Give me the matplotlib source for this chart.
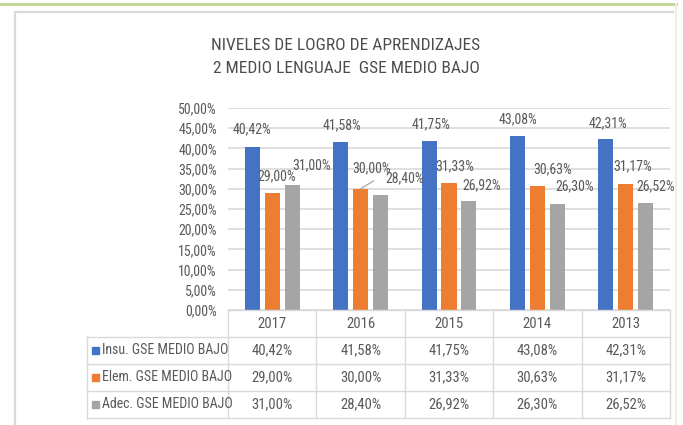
import numpy as np
import matplotlib
matplotlib.use('Agg')
import matplotlib.pyplot as plt
import matplotlib.transforms as mtransforms
from matplotlib.lines import Line2D
from matplotlib.patches import Rectangle
from matplotlib import font_manager

# fuente estrecha parecida a la del original
installed = {f.name for f in font_manager.fontManager.ttflist}
wanted = ['Roboto Condensed', 'Archivo Narrow', 'Asap Condensed', 'Barlow Condensed']
fam = [n for n in wanted if n in installed][:1] + ['DejaVu Sans']
plt.rcParams['font.family'] = fam

# datos
years = ['2017', '2016', '2015', '2014', '2013']
series_names = ['Insu. GSE MEDIO BAJO', 'Elem. GSE MEDIO BAJO', 'Adec. GSE MEDIO BAJO']
insu = [40.42, 41.58, 41.75, 43.08, 42.31]
elem = [29.00, 30.00, 31.33, 30.63, 31.17]
adec = [31.00, 28.40, 26.92, 26.30, 26.52]
colors = ['#4472c4', '#ed7d31', '#a5a5a5']
title = 'NIVELES DE LOGRO DE APRENDIZAJES\n2 MEDIO LENGUAJE  GSE MEDIO BAJO'

# desplazamiento de las etiquetas (px) como en la hoja original
label_dx = [[0, 1, 2, 1, 2], [4, 11, 6, 15, 7], [19, 24, 13, 17, 10]]
label_dy = [[17, 17, 17, 17, 16], [17, 21, 17, 17, 18], [19, 17, 16, 17, 17]]

txt = '#595959'
grid_c = '#d9d9d9'
PT = 0.72  # px -> pt a 100 dpi


def pct(v):
    return f'{v:.2f}%'.replace('.', ',')


W, H = 683, 425
fig = plt.figure(figsize=(W / 100, H / 100), dpi=100)

# marco de la hoja
fig.add_artist(Line2D([0, 676 / W], [1 - 4 / H] * 2, transform=fig.transFigure,
                      color='#c4d79b', lw=2.2))
fig.add_artist(Line2D([676 / W] * 2, [0, 1 - 4 / H], transform=fig.transFigure,
                      color='#ebf1de', lw=1.5))
fig.add_artist(Line2D([15 / W, 15 / W, 673 / W], [0, 1 - 12 / H, 1 - 12 / H],
                      transform=fig.transFigure, color='#d9d9d9', lw=1.6))

# area del grafico: x 228..670 px, y 108..310 px
ax = fig.add_axes([228 / W, 1 - 310 / H, 442 / W, 202 / H])
ax.set_xlim(-0.5, 4.5)
ax.set_ylim(0, 50)
x = np.arange(len(years))
width = 0.17
step = 0.226

series = [insu, elem, adec]
for i, (vals, c) in enumerate(zip(series, colors)):
    xs = x + (i - 1) * step
    ax.bar(xs, vals, width, color=c, zorder=2)
    for j, v in enumerate(vals):
        ax.annotate(pct(v), (xs[j], v), xytext=(label_dx[i][j] * PT, label_dy[i][j] * PT),
                    textcoords='offset points', ha='center', va='center',
                    fontsize=10, color=txt)

# linea guia de la etiqueta 30,00%
ax.annotate('', xy=(x[1], elem[1]), xytext=(13 * PT, 8 * PT), textcoords='offset points',
            arrowprops=dict(arrowstyle='-', color='#a6a6a6', lw=0.9, shrinkA=0, shrinkB=0))

ax.set_yticks(np.arange(0, 51, 5))
ax.set_yticklabels([pct(v) for v in np.arange(0, 51, 5)], fontsize=10, color=txt)
ax.set_xticks([])
ax.tick_params(axis='y', length=0, pad=8)
for s in ax.spines.values():
    s.set_visible(False)
ax.yaxis.grid(True, color=grid_c, lw=1.2)
ax.set_axisbelow(True)

fig.text(346 / W, 1 - 57 / H, title, ha='center', va='center', fontsize=12.5,
         color='#4d4d4d', linespacing=1.7)


# tabla de datos bajo el grafico
def ax_x(px):
    return (px - 228) / 442


def ax_y(py):
    return (310 - py) / 202


blend = mtransforms.blended_transform_factory(ax.transData, ax.transAxes)
row_edges = [310, 337, 363.5, 390.5, 418]
left_px = 87

kw = dict(transform=ax.transAxes, clip_on=False, color=grid_c, lw=1.0)
for k, py in enumerate(row_edges):
    x0 = 0 if k == 0 else ax_x(left_px)
    ax.plot([x0, 1], [ax_y(py)] * 2, **kw)
for e in np.arange(-0.5, len(years)):
    xe = ax.transAxes.inverted().transform(ax.transData.transform((e, 0)))[0]
    ax.plot([xe, xe], [ax_y(310), ax_y(418)], **kw)
ax.plot([ax_x(left_px)] * 2, [ax_y(337), ax_y(418)], **kw)

head_y = ax_y((row_edges[0] + row_edges[1]) / 2)
for j, yr in enumerate(years):
    ax.text(x[j], head_y, yr, transform=blend, ha='center', va='center',
            fontsize=10.5, color=txt, clip_on=False)

for i, (name, vals, c) in enumerate(zip(series_names, series, colors)):
    cy = (row_edges[i + 1] + row_edges[i + 2]) / 2
    ax.add_patch(Rectangle((ax_x(92), ax_y(cy + 3.5)), 7 / 442, 7 / 202,
                           transform=ax.transAxes, clip_on=False, color=c))
    ax.text(ax_x(102), ax_y(cy), name, transform=ax.transAxes, ha='left', va='center',
            fontsize=10, color=txt, clip_on=False)
    for j, v in enumerate(vals):
        ax.text(x[j], ax_y(cy), pct(v), transform=blend, ha='center', va='center',
                fontsize=10.5, color=txt, clip_on=False)

fig.savefig('out.png', dpi=100)
